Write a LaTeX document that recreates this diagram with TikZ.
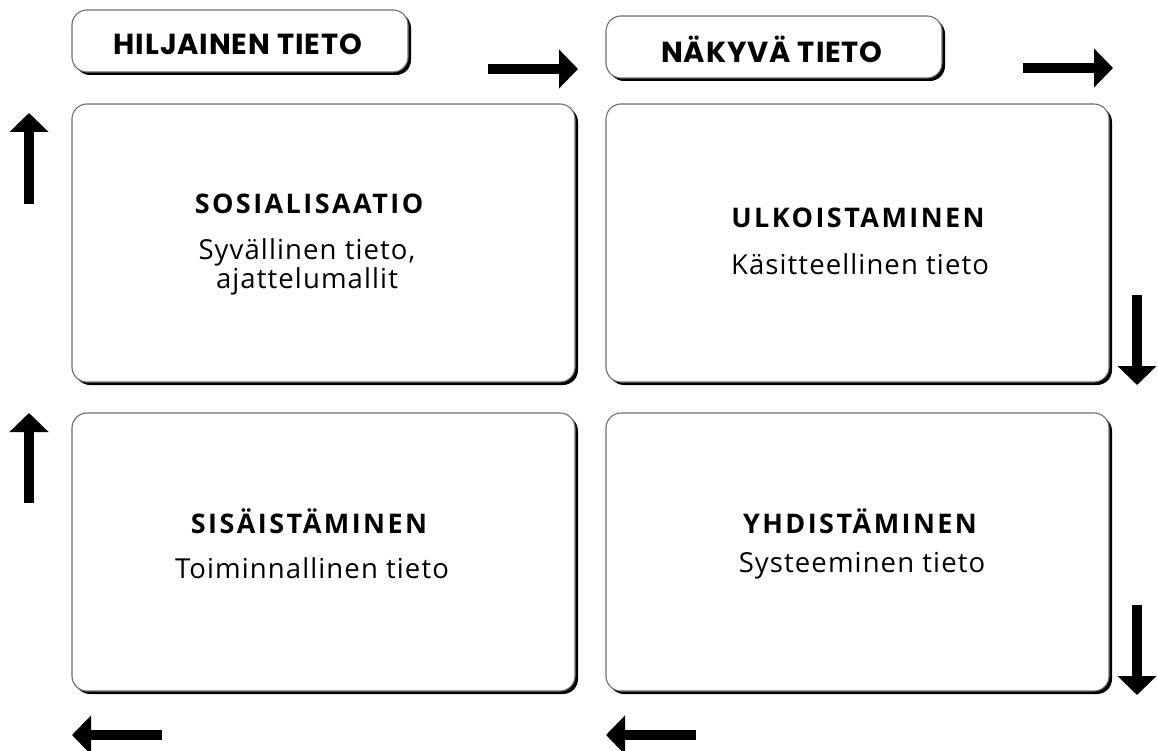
\documentclass[tikz,border=0pt]{standalone}
\usepackage{fontspec}
\setmainfont{Open Sans}
\newfontfamily\headfont[LetterSpace=3]{Poppins}
\newfontfamily\titlefont[LetterSpace=9]{Open Sans}
\newfontfamily\bodyfont[LetterSpace=4]{Open Sans}
\usetikzlibrary{arrows.meta,shadows}
\definecolor{edge}{HTML}{6E6E6E}
\tikzset{
  card/.style={draw=edge, line width=1.1pt, fill=white, rounded corners=15pt,
    inner sep=0pt, outer sep=0pt,
    drop shadow={shadow xshift=3pt, shadow yshift=-3pt, fill=black, opacity=1}},
  bigcard/.style={card, minimum width=503pt, minimum height=278pt},
  headcard/.style={card, minimum width=336pt, minimum height=62pt},
  headtext/.style={font=\headfont\bfseries\fontsize{29pt}{32pt}\selectfont, inner sep=0pt},
  titletext/.style={font=\titlefont\bfseries\fontsize{27pt}{28pt}\selectfont, inner sep=0pt},
  bodytext/.style={font=\bodyfont\fontsize{27.5pt}{25pt}\selectfont, inner sep=0pt, align=center},
  flow/.style={line width=9.5pt, -{Triangle[width=38pt,length=19pt]}}
}
\begin{document}
\begin{tikzpicture}[x=1pt,y=-1pt]
\useasboundingbox (0,0) rectangle (1158,751);
% header cards
\node[headcard] (h1) at (240,41) {};
\node[headtext] (h1t) at (238,44) {HILJAINEN TIETO};
\node[headcard] (h2) at (774,47) {};
\node[headtext] (h2t) at (772,49) {NÄKYVÄ TIETO};
% big cards
\node[bigcard] (tl) at (323.5,243) {};
\node[bigcard] (tr) at (857.5,243) {};
\node[bigcard] (bl) at (323.5,552) {};
\node[bigcard] (br) at (857.5,552) {};
% texts
\node[titletext] (tlt) at (309,204) {SOSIALISAATIO};
\node[bodytext] (tlb) at (307,267) {Syvällinen tieto,\\ajattelumallit};
\node[titletext] (trt) at (858,218) {ULKOISTAMINEN};
\node[bodytext] (trb) at (860,264) {Käsitteellinen tieto};
\node[titletext] (blt) at (309,521) {SISÄISTÄMINEN};
\node[bodytext] (blb) at (312,568) {Toiminnallinen tieto};
\node[titletext] (brt) at (860,521) {YHDISTÄMINEN};
\node[bodytext] (brb) at (862,566) {Systeeminen tieto};
% arrow end points
\coordinate (r1a) at (488,69);  \coordinate (r1b) at (578,69);
\coordinate (r2a) at (1023,68); \coordinate (r2b) at (1113,68);
\coordinate (u1a) at (29,204);  \coordinate (u1b) at (29,113);
\coordinate (u2a) at (29,503);  \coordinate (u2b) at (29,413);
\coordinate (d1a) at (1137,295); \coordinate (d1b) at (1137,385);
\coordinate (d2a) at (1137,605); \coordinate (d2b) at (1137,695);
\coordinate (l1a) at (162,735); \coordinate (l1b) at (72,735);
\coordinate (l2a) at (696,735); \coordinate (l2b) at (606,735);
\draw[flow] (r1a) -- (r1b);
\draw[flow] (r2a) -- (r2b);
\draw[flow] (u1a) -- (u1b);
\draw[flow] (u2a) -- (u2b);
\draw[flow] (d1a) -- (d1b);
\draw[flow] (d2a) -- (d2b);
\draw[flow] (l1a) -- (l1b);
\draw[flow] (l2a) -- (l2b);
\end{tikzpicture}
\end{document}
